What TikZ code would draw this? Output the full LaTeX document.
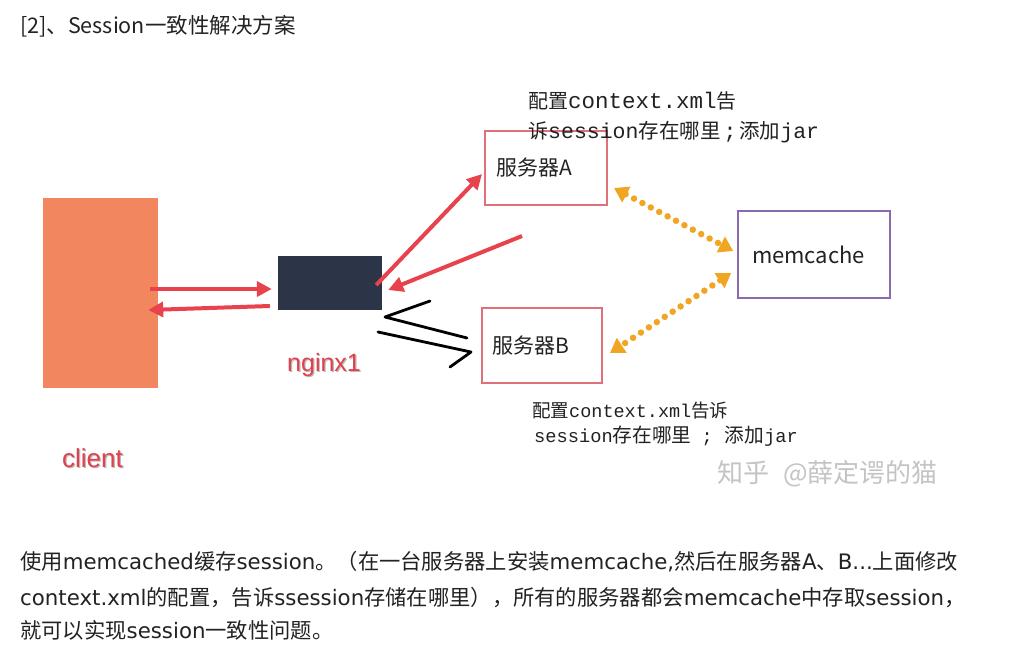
\documentclass[tikz,border=0pt]{standalone}
\usepackage{fontspec}
\setmainfont{Noto Sans CJK SC}
\newfontfamily\cjk{Noto Sans CJK SC}
\newfontfamily\mono{Liberation Mono}
\newfontfamily\lsans{Liberation Sans}
\newfontfamily\dvs{DejaVu Sans}
\usetikzlibrary{arrows.meta,calc}
\definecolor{clientc}{HTML}{F2875F}
\definecolor{nginxc}{HTML}{2B3547}
\definecolor{redarrow}{HTML}{E8434D}
\definecolor{boxred}{HTML}{E0707A}
\definecolor{purp}{HTML}{8A6AB0}
\definecolor{dotor}{HTML}{F0A623}
\definecolor{txt}{HTML}{222222}
\definecolor{wm}{HTML}{C4C4C4}
\definecolor{lblred}{HTML}{E2404C}
\definecolor{shad}{HTML}{BBBBBB}
\newcommand{\cj}[2]{{\cjk\fontsize{#1}{#1}\selectfont #2}}
\newcommand{\mn}[2]{{\mono\fontsize{#1}{#1}\selectfont #2}}
\newcommand{\lt}[1]{{\dvs\fontsize{21.3}{24}\selectfont #1}}
\tikzset{
  redarr/.style={draw=redarrow, line width=4pt, -{Triangle[length=15pt,width=15pt]}},
  dotarr/.style={draw=dotor, line width=6.5pt, line cap=round, dash pattern=on 0pt off 9.5pt,
     {Triangle[length=14pt,width=17pt]}-{Triangle[length=14pt,width=17pt]}},
  srvbox/.style={draw=boxred, line width=1.6pt, fill=white, inner ysep=0pt, outer sep=0pt,
     align=left, font=\cjk\fontsize{21}{24}\selectfont, text=txt},
  note/.style={anchor=base west, inner sep=0pt, text=txt},
  para/.style={anchor=base west, inner sep=0pt, text=txt, font=\cjk\fontsize{21.3}{24}\selectfont},
  lbl/.style={anchor=base west, inner sep=0pt, text=lblred},
  lblshadow/.style={anchor=base west, inner sep=0pt, text=shad},
  hand/.style={draw=black, line width=2.8pt, line join=round, line cap=round}
}
\begin{document}
\begin{tikzpicture}[x=1pt,y=-1pt]
\useasboundingbox (0,0) rectangle (1027,654);
\fill[white] (0,0) rectangle (1027,654);

% title
\node[para, font=\cjk\fontsize{21.5}{24}\selectfont] (title) at (20,33) {[2]、Session一致性解决方案};

% main boxes
\node[fill=clientc, minimum width=115pt, minimum height=190pt, inner sep=0pt] (client) at (100.5,293) {};
\node[fill=nginxc, minimum width=104pt, minimum height=54pt, inner sep=0pt] (nginx) at (330,283) {};
\node[srvbox, text width=100pt, inner xsep=11pt, minimum height=74pt] (srvA) at (546,168) {服务器A};
\node[srvbox, text width=99pt, inner xsep=10.5pt, minimum height=75pt] (srvB) at (542,345.5) {服务器B};
\node[draw=purp, line width=1.6pt, text width=124pt, inner xsep=14pt, minimum height=87pt, align=left,
      font=\cjk\fontsize{22}{24}\selectfont, text=txt] (mem) at (814,254.5) {memcache};

% labels
\node[lblshadow, font=\lsans\fontsize{26}{28}\selectfont] (clientsh) at (63.2,468.6) {client};
\node[lbl, font=\lsans\fontsize{26}{28}\selectfont] (clientlbl) at (62,467) {client};
\node[lblshadow, font=\lsans\fontsize{25}{28}\selectfont] (nginxsh) at (288.2,372.6) {nginx1};
\node[lbl, font=\lsans\fontsize{25}{28}\selectfont] (nginxlbl) at (287,371) {nginx1};

% red arrows
\draw[redarr] ([xshift=-8pt,yshift=4pt]client.east) -- ([xshift=-6pt,yshift=-6pt]nginx.west);
\draw[redarr] ([xshift=-8pt,yshift=-23pt]nginx.west) -- ([xshift=-10pt,yshift=-17pt]client.east);
\draw[redarr] ([xshift=-6pt,yshift=-2pt]nginx.east) -- ([xshift=-3pt,yshift=-6pt]srvA.west);
\coordinate (rfree) at (522,236);
\draw[redarr] (rfree) -- ([xshift=6pt,yshift=-7pt]nginx.east);

% hand drawn black strokes
\draw[hand] (430,301) -- (385,317) -- (467,338);
\draw[hand] (378,332) -- (471,352) -- (450,367);

% orange dotted arrows
\draw[dotarr] ([xshift=7pt,yshift=-20pt]srvA.east) -- ([xshift=-4pt,yshift=3.5pt]mem.west);
\draw[dotarr] ([xshift=-6pt,yshift=-18.5pt]mem.west) -- ([xshift=8pt,yshift=-7.5pt]srvB.east);

% notes
\node[note] (noteA1) at (528,108) {\cj{20}{配置}\mn{22.5}{context.xml}\cj{20}{告}};
\node[note] (noteA2) at (528,138) {\cj{20}{诉}\mn{21.5}{session}\cj{20.5}{存在哪里}\hspace{3pt}\mn{21.5}{;}\hspace{3pt}\cj{20.5}{添加}\mn{21.5}{jar}};
\node[note] (noteB1) at (532,417) {\cj{18.5}{配置}\mn{18.5}{context.xml}\cj{18.5}{告诉}};
\node[note] (noteB2) at (534,442) {\mn{18.7}{session}\cj{19.7}{存在哪里}\hspace{10pt}\mn{18.5}{;}\hspace{12pt}\cj{19.7}{添加}\mn{18.7}{jar}};

% watermark
\node[anchor=base west, inner sep=0pt, text=wm, font=\cjk\fontsize{26}{28}\selectfont] (wmark) at (717,482) {知乎\hspace{14pt}@薛定谔的猫};

% paragraph
\node[para] (p1) at (20,569.5) {使用\lt{memcached}缓存\lt{session}。（在一台服务器上安装\lt{memcache,}然后在服务器\lt{A}、\lt{B...}上面修改};
\node[para] (p2) at (20,605.5) {\lt{context.xml}的配置，告诉\lt{ssession}存储在哪里），所有的服务器都会\lt{memcache}中存取\lt{session}，};
\node[para] (p3) at (20,638) {就可以实现\lt{session}一致性问题。};
\end{tikzpicture}
\end{document}
